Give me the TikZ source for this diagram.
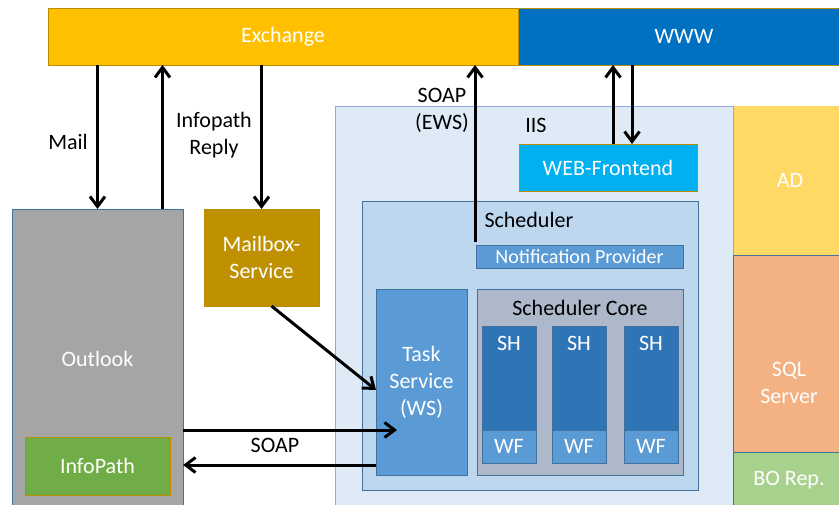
\documentclass[tikz,border=0pt]{standalone}
\usepackage{fontspec}
\setmainfont{Carlito}
\usetikzlibrary{arrows.meta}
\definecolor{exchcol}{HTML}{FFC000}
\definecolor{wwwcol}{HTML}{0070C0}
\definecolor{iiscol}{HTML}{DEEBF7}
\definecolor{webcol}{HTML}{00B0F0}
\definecolor{schedcol}{HTML}{BDD7EE}
\definecolor{midblue}{HTML}{5B9BD5}
\definecolor{darkblue}{HTML}{2E75B6}
\definecolor{corecol}{HTML}{ADB9CA}
\definecolor{adcol}{HTML}{FFD966}
\definecolor{sqlcol}{HTML}{F4B183}
\definecolor{bocol}{HTML}{A9D18E}
\definecolor{outlcol}{HTML}{A5A5A5}
\definecolor{infocol}{HTML}{70AD47}
\definecolor{mailcol}{HTML}{BF9000}
\definecolor{edgeblue}{HTML}{41719C}
\definecolor{edgegold}{HTML}{BC8C00}
\definecolor{edgepale}{HTML}{8FAADC}

\begin{document}
\begin{tikzpicture}[x=1pt, y=-1pt, font=\fontsize{22}{27}\selectfont,
  box/.style={draw=#1, line width=0.6pt, anchor=north west, inner sep=0pt,
    outer sep=0pt, text=white, align=center},
  box/.default=edgeblue,
  flow/.style={line width=3pt, -{Straight Barb[length=10pt,width=15pt]}},
  lbl/.style={align=center, text=black}]

\useasboundingbox (0,0) rectangle (839,505);
\clip (0,0) rectangle (839,505);

% top bars
\node[box=edgegold, fill=exchcol, minimum width=470pt, minimum height=57pt] (exch) at (48,8) {Exchange};
\node[box=edgegold, fill=wwwcol, minimum width=332pt, minimum height=57pt] (www) at (518,8) {WWW};

% IIS host
\node[box=edgepale, fill=iiscol, minimum width=398pt, minimum height=410pt] (iis) at (335,106) {};
\node[lbl] (iislbl) at (536,125) {IIS};
\node[box=edgegold, fill=webcol, minimum width=178pt, minimum height=47pt] (web) at (519,144) {WEB-Frontend};

% scheduler
\node[box, fill=schedcol, minimum width=336pt, minimum height=289pt] (sched) at (362,201) {};
\node[lbl, anchor=west] (schedlbl) at (481,220) {Scheduler};
\node[box, fill=midblue, minimum width=207pt, minimum height=23pt,
  font=\fontsize{20}{24}\selectfont] (notif) at (476,245) {Notification Provider};
\node[box, fill=midblue, minimum width=91pt, minimum height=186pt] (task) at (376,289) {Task\\Service\\(WS)};
\node[box, fill=corecol, minimum width=206pt, minimum height=186pt] (core) at (477,289) {};
\node[lbl] (corelbl) at (580,308) {Scheduler Core};
\foreach \x/\i in {482/1, 552/2, 624/3} {
  \node[box, fill=darkblue, minimum width=54pt, minimum height=104pt] (sh\i) at (\x,326) {};
  \node[text=white] (shlbl\i) at ([yshift=-17pt]sh\i.north) {SH};
  \node[box, fill=midblue, minimum width=54pt, minimum height=33pt] (wf\i) at (\x,430) {WF};
}

% databases
\node[box=adcol, fill=adcol, minimum width=112pt, minimum height=149pt] (ad) at (734,106) {AD};
\node[box, fill=sqlcol, minimum width=112pt, minimum height=256pt] (sql) at (733,255) {SQL\\Server};
\node[box, fill=bocol, minimum width=112pt, minimum height=56pt] (bo) at (733,452) {BO Rep.};

% clients
\node[box, fill=outlcol, minimum width=171pt, minimum height=300pt] (outlook) at (12,209) {Outlook};
\node[box=edgegold, fill=infocol, minimum width=145pt, minimum height=58pt] (info) at (25,437) {InfoPath};
\node[box=edgegold, fill=mailcol, minimum width=115pt, minimum height=97pt] (mailbox) at (204,209) {Mailbox-\\Service};

% labels
\node[lbl] (maillbl) at (68,142) {Mail};
\node[lbl] (replylbl) at (214,135) {Infopath\\Reply};
\node[lbl] (ewslbl) at (442,110) {SOAP\\(EWS)};
\node[lbl] (soaplbl) at (275,445) {SOAP};

% connectors
\draw[flow] (exch.south -| outlook.north) -- (outlook.north);
\coordinate (replyup) at ([xshift=65pt]outlook.north);
\draw[flow] (replyup) -- (replyup |- exch.south);
\draw[flow] (exch.south -| mailbox.north) -- (mailbox.north);

\coordinate (ews) at ([xshift=-1pt,yshift=3pt]notif.north west);
\draw[flow] (ews) -- (ews |- exch.south);

\coordinate (wup) at ([xshift=5pt]web.north);
\draw[flow] (wup) -- (wup |- www.south);
\coordinate (wdn) at ([xshift=24pt]web.north);
\draw[flow] (wdn |- www.south) -- (wdn);

\draw[flow] ([xshift=10pt]mailbox.south) -- ([yshift=-8pt]task.west);

\coordinate (soapin) at ([shift={(21pt,45pt)}]task.south west);
\draw[flow] (outlook.east |- soapin) -- (soapin);
\coordinate (soapout) at ([yshift=10pt]task.south west);
\draw[flow] (soapout) -- (soapout -| outlook.east);

\end{tikzpicture}
\end{document}
